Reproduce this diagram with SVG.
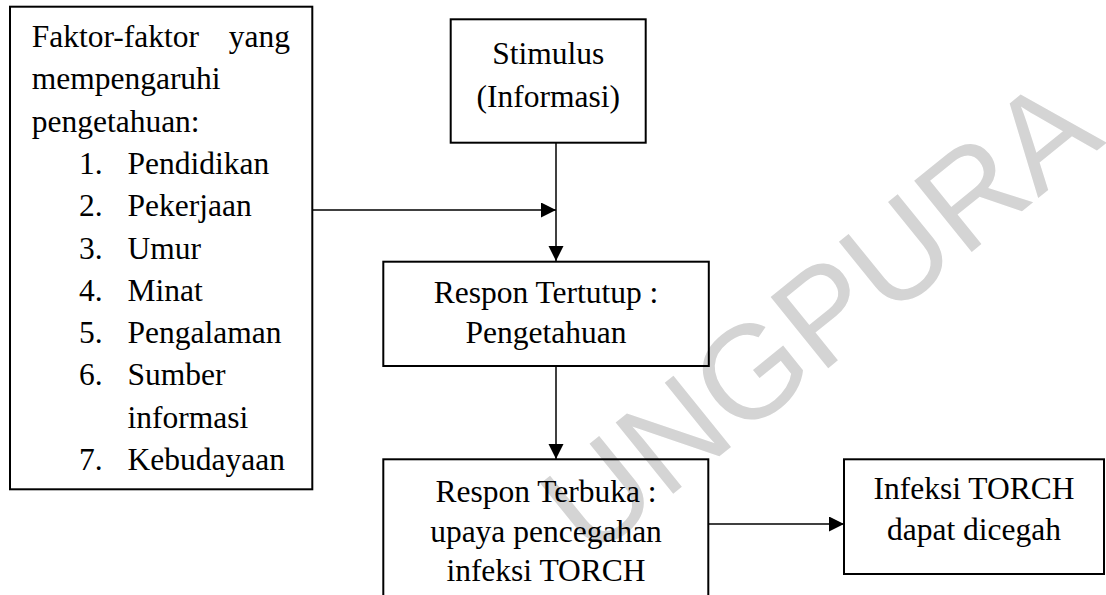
<svg xmlns="http://www.w3.org/2000/svg" width="1106" height="595" viewBox="0 0 1106 595">
<style>
.box{fill:none;stroke:#000;stroke-width:2}
.t{font-family:"Liberation Serif","Times New Roman",serif;font-size:31.5px;fill:#000}
.c{text-anchor:middle}
.e{text-anchor:end}
.edge{fill:none;stroke:#000;stroke-width:1.5}
.wm{font-family:"Liberation Sans",Arial,sans-serif;font-size:133px;fill:#d4d4d4}
</style>
<defs>
<marker id="ah" markerWidth="16" markerHeight="16" refX="15" refY="7.5" orient="auto" markerUnits="userSpaceOnUse"><path d="M0,0 L15,7.5 L0,15 Z" fill="#000"/></marker>
</defs>
<rect width="1106" height="595" fill="#fff"/>
<text class="wm" transform="translate(590,561) rotate(-39)">UNGPURA</text>
<g id="connectors">
<line class="edge" x1="312" y1="210" x2="556" y2="210" marker-end="url(#ah)"/>
<line class="edge" x1="556" y1="143" x2="556" y2="261" marker-end="url(#ah)"/>
<line class="edge" x1="556" y1="366" x2="556" y2="459" marker-end="url(#ah)"/>
<line class="edge" x1="708" y1="524" x2="844" y2="524" marker-end="url(#ah)"/>
</g>
<g id="faktor">
<rect class="box" x="10" y="6.7" width="302.3" height="482.6"/>
<text class="t" x="31.7" y="47">Faktor-faktor</text>
<text class="t e" x="290" y="47">yang</text>
<text class="t" x="31.7" y="89.3">mempengaruhi</text>
<text class="t" x="31.7" y="131.6">pengetahuan:</text>
<text class="t" x="79" y="173.9">1.</text><text class="t" x="127.5" y="173.9">Pendidikan</text>
<text class="t" x="79" y="216.2">2.</text><text class="t" x="127.5" y="216.2">Pekerjaan</text>
<text class="t" x="79" y="258.5">3.</text><text class="t" x="127.5" y="258.5">Umur</text>
<text class="t" x="79" y="300.8">4.</text><text class="t" x="127.5" y="300.8">Minat</text>
<text class="t" x="79" y="343.1">5.</text><text class="t" x="127.5" y="343.1">Pengalaman</text>
<text class="t" x="79" y="385.4">6.</text><text class="t" x="127.5" y="385.4">Sumber</text>
<text class="t" x="127.5" y="427.7">informasi</text>
<text class="t" x="79" y="470">7.</text><text class="t" x="127.5" y="470">Kebudayaan</text>
</g>
<g id="stimulus">
<rect class="box" x="450.7" y="19.3" width="195" height="123.4"/>
<text class="t c" x="548.2" y="64.3">Stimulus</text>
<text class="t c" x="548.2" y="107">(Informasi)</text>
</g>
<g id="respon-tertutup">
<rect class="box" x="383.3" y="261.7" width="325.5" height="104.3"/>
<text class="t c" x="546" y="302.7">Respon Tertutup :</text>
<text class="t c" x="546" y="343.3">Pengetahuan</text>
</g>
<g id="respon-terbuka">
<rect class="box" x="383.3" y="459.3" width="325" height="160"/>
<text class="t c" x="546" y="501.7">Respon Terbuka :</text>
<text class="t c" x="546" y="541.5">upaya pencegahan</text>
<text class="t c" x="546" y="580.5">infeksi TORCH</text>
</g>
<g id="infeksi">
<rect class="box" x="844" y="459.3" width="260" height="114.7"/>
<text class="t c" x="974" y="499.3">Infeksi TORCH</text>
<text class="t c" x="974" y="540">dapat dicegah</text>
</g>
</svg>
